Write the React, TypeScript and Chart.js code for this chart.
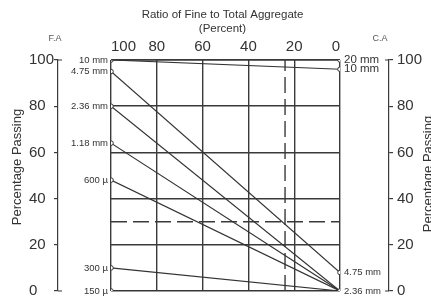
import React, { useEffect, useRef } from "react";
import { Chart, registerables } from "chart.js";

Chart.register(...registerables);

// Sieve sizes and their percentage passing for fine (left, ratio 100) and coarse (right, ratio 0) aggregate
const sieves = ["20 mm", "10 mm", "4.75 mm", "2.36 mm", "1.18 mm", "600 µ", "300 µ", "150 µ"];
const fineAgg = [100, 100, 95, 80, 64, 48, 10, 0];
const coarseAgg = [100, 96, 8, 0, 0, 0, 0, 0];
const leftLabelled = ["10 mm", "4.75 mm", "2.36 mm", "1.18 mm", "600 µ", "300 µ", "150 µ"];
const rightLabelled = ["20 mm", "10 mm", "4.75 mm", "2.36 mm"];
const rightBig = ["20 mm", "10 mm"];

// Axis ticks
const ratioTicks = [0, 20, 40, 60, 80, 100];
const passingTicks = [0, 20, 40, 60, 80, 100];

// Design guide lines
const designRatio = 24;
const designPassing = 30;

const FONT = "'Liberation Sans', Arial, sans-serif";
const INK = "#333";
const GRID = "#3a3a3a";

export default function App() {
  const ref = useRef<HTMLCanvasElement | null>(null);

  useEffect(() => {
    document.body.style.margin = "0";
    const canvas = ref.current;
    if (!canvas) return;

    const lineDatasets = sieves.map((s, i) => ({
      label: s,
      data: [
        { x: 100, y: fineAgg[i] },
        { x: 0, y: coarseAgg[i] },
      ],
      borderColor: INK,
      borderWidth: 1.2,
      pointRadius: [leftLabelled.includes(s) ? 2.3 : 0, rightLabelled.includes(s) ? 2.3 : 0],
      pointBackgroundColor: "#fff",
      pointBorderColor: INK,
      pointBorderWidth: 1,
      showLine: true,
      fill: false,
      xAxisID: "x",
      yAxisID: "y",
      order: 1,
    }));

    const guideDatasets = [
      {
        label: "guideV",
        data: [
          { x: designRatio, y: 0 },
          { x: designRatio, y: 100 },
        ],
        borderColor: GRID,
        borderWidth: 1.4,
        borderDash: [16, 6],
        pointRadius: 0,
        showLine: true,
        fill: false,
        xAxisID: "x",
        yAxisID: "y",
        order: 2,
      },
      {
        label: "guideH",
        data: [
          { x: 100, y: designPassing },
          { x: 0, y: designPassing },
        ],
        borderColor: GRID,
        borderWidth: 1.4,
        borderDash: [16, 6],
        pointRadius: 0,
        showLine: true,
        fill: false,
        xAxisID: "x",
        yAxisID: "y",
        order: 2,
      },
    ];

    const labelPlugin = {
      id: "labels",
      afterDatasetsDraw(chart: any) {
        const ctx = chart.ctx;
        const xs = chart.scales.x;
        const ys = chart.scales.y;
        const ca = chart.chartArea;
        ctx.save();
        ctx.fillStyle = INK;
        ctx.textBaseline = "middle";
        // left labels
        ctx.textAlign = "right";
        ctx.font = `9.5px ${FONT}`;
        sieves.forEach((s, i) => {
          if (!leftLabelled.includes(s)) return;
          ctx.fillText(s, xs.getPixelForValue(100) - 3, ys.getPixelForValue(fineAgg[i]));
        });
        // right labels
        ctx.textAlign = "left";
        sieves.forEach((s, i) => {
          if (!rightLabelled.includes(s)) return;
          ctx.font = rightBig.includes(s) ? `11.5px ${FONT}` : `9.5px ${FONT}`;
          ctx.fillText(s, xs.getPixelForValue(0) + 4, ys.getPixelForValue(coarseAgg[i]));
        });
        // titles
        ctx.textAlign = "center";
        ctx.font = `11.5px ${FONT}`;
        const cx = (ca.left + ca.right) / 2 - 3;
        ctx.fillText("Ratio of Fine to Total Aggregate", cx, 15);
        ctx.fillText("(Percent)", cx, 29);
        ctx.font = `9px ${FONT}`;
        ctx.fillStyle = "#555";
        ctx.fillText("F.A", 55, 39);
        ctx.fillText("C.A", 380, 39);
        // axis titles
        ctx.fillStyle = INK;
        ctx.font = `13px ${FONT}`;
        ctx.save();
        ctx.translate(17, 167);
        ctx.rotate(-Math.PI / 2);
        ctx.fillText("Percentage Passing", 0, 0);
        ctx.restore();
        ctx.save();
        ctx.translate(428, 174);
        ctx.rotate(-Math.PI / 2);
        ctx.fillText("Percentage Passing", 0, 0);
        ctx.restore();
        // bracket caps
        const yl = chart.scales.yL;
        const yr = chart.scales.yR;
        ctx.strokeStyle = GRID;
        ctx.lineWidth = 1.2;
        ctx.beginPath();
        const t = ys.getPixelForValue(100);
        const b = ys.getPixelForValue(0);
        ctx.moveTo(yl.right, t); ctx.lineTo(yl.right + 4, t);
        ctx.moveTo(yl.right, b); ctx.lineTo(yl.right + 4, b);
        ctx.moveTo(yr.left, t); ctx.lineTo(yr.left - 4, t);
        ctx.moveTo(yr.left, b); ctx.lineTo(yr.left - 4, b);
        ctx.stroke();
        ctx.restore();
      },
    };

    const tickCb = (v: any) => (passingTicks.includes(Number(v)) ? String(v) : "");

    const chart = new Chart(canvas, {
      type: "scatter",
      data: { datasets: [...lineDatasets, ...guideDatasets] as any },
      plugins: [labelPlugin],
      options: {
        animation: false,
        responsive: false,
        maintainAspectRatio: false,
        layout: { padding: { top: 0, bottom: 8, left: 29, right: 0 } },
        plugins: { legend: { display: false }, tooltip: { enabled: false }, title: { display: false } },
        scales: {
          x: {
            type: "linear",
            position: "top",
            reverse: true,
            min: 0,
            max: 100,
            afterBuildTicks: (s: any) => {
              s.ticks = ratioTicks.map((v) => ({ value: v }));
            },
            afterFit: (s: any) => {
              s.height = 60;
            },
            ticks: {
              font: { family: FONT, size: 15 },
              color: INK,
              padding: 4,
              align: "inner",
              maxRotation: 0,
            },
            grid: { color: GRID, lineWidth: 1.4, drawTicks: false },
            border: { display: false },
          },
          y: {
            type: "linear",
            position: "left",
            weight: 0,
            min: 0,
            max: 100,
            afterBuildTicks: (s: any) => {
              s.ticks = passingTicks.map((v) => ({ value: v }));
            },
            afterFit: (s: any) => {
              s.width = 53;
            },
            ticks: { display: false },
            grid: { color: GRID, lineWidth: 1.4, drawTicks: false },
            border: { display: false },
          },
          yL: {
            type: "linear",
            position: "left",
            weight: 1,
            min: 0,
            max: 100,
            afterBuildTicks: (s: any) => {
              s.ticks = passingTicks.map((v) => ({ value: v }));
            },
            afterFit: (s: any) => {
              s.width = 29;
            },
            ticks: { font: { family: FONT, size: 15 }, color: INK, padding: 3, crossAlign: "far", callback: tickCb },
            grid: { drawOnChartArea: false, drawTicks: true, tickLength: 4, color: GRID, lineWidth: 1.2 },
            border: { display: true, color: GRID, width: 1.2 },
          },
          yRpad: {
            type: "linear",
            position: "right",
            weight: 0,
            min: 0,
            max: 100,
            afterFit: (s: any) => {
              s.width = 49;
            },
            ticks: { display: false },
            grid: { display: false, drawTicks: false },
            border: { display: false },
          },
          yR: {
            type: "linear",
            position: "right",
            weight: 1,
            min: 0,
            max: 100,
            afterBuildTicks: (s: any) => {
              s.ticks = passingTicks.map((v) => ({ value: v }));
            },
            afterFit: (s: any) => {
              s.width = 42;
            },
            ticks: { font: { family: FONT, size: 15 }, color: INK, padding: 4, callback: tickCb },
            grid: { drawOnChartArea: false, drawTicks: true, tickLength: 4, color: GRID, lineWidth: 1.2 },
            border: { display: true, color: GRID, width: 1.2 },
          },
        },
      } as any,
    });

    return () => chart.destroy();
  }, []);

  return (
    <div style={{ position: "absolute", left: 0, top: 0, width: 431, height: 304, background: "#fff" }}>
      <canvas ref={ref} width={431} height={304} style={{ width: 431, height: 304, display: "block" }} />
    </div>
  );
}
